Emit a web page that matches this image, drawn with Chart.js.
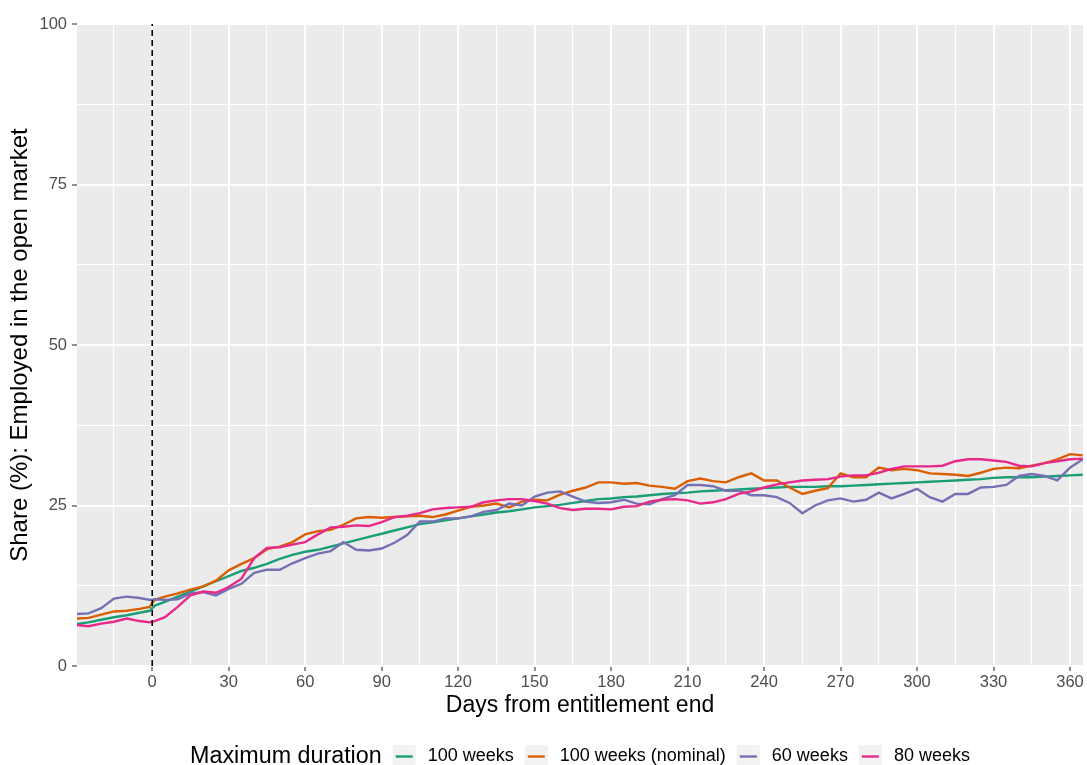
<!DOCTYPE html>
<html><head><meta charset="utf-8">
<script src="https://cdn.jsdelivr.net/npm/chart.js@4.4.1/dist/chart.umd.min.js"></script>
<style>html,body{margin:0;padding:0;background:#fff;}</style>
</head><body>
<canvas id="c" width="1087" height="765"></canvas>
<script>
const days = [-30,-25,-20,-15,-10,-5,-1,1,5,10,15,20,25,30,35,40,45,50,55,60,65,70,75,80,85,90,95,100,105,110,115,120,125,130,135,140,145,150,155,160,165,170,175,180,185,190,195,200,205,210,215,220,225,230,235,240,245,250,255,260,265,270,275,280,285,290,295,300,305,310,315,320,325,330,335,340,345,350,355,360,365];

const wk100 = [6.5,6.8,7.2,7.6,7.9,8.3,8.6,9.4,10.0,10.8,11.6,12.4,13.2,14.0,14.8,15.3,15.9,16.7,17.3,17.8,18.1,18.6,19.1,19.6,20.1,20.6,21.1,21.6,22.1,22.4,22.7,23.0,23.3,23.6,23.9,24.1,24.4,24.7,24.9,25.1,25.4,25.7,26.0,26.1,26.3,26.4,26.6,26.8,26.9,27.0,27.2,27.3,27.4,27.5,27.6,27.7,27.8,27.9,27.9,27.9,28.0,28.0,28.1,28.2,28.3,28.4,28.5,28.6,28.7,28.8,28.9,29.0,29.1,29.3,29.4,29.4,29.4,29.5,29.6,29.7,29.8];

const wk100nom = [7.4,7.5,8.0,8.5,8.6,8.9,9.2,10.3,10.8,11.3,11.9,12.4,13.3,14.9,15.9,16.8,18.2,18.6,19.3,20.5,21.0,21.2,22.0,23.0,23.2,23.1,23.2,23.3,23.4,23.2,23.6,24.2,24.8,25.0,25.3,24.7,25.6,25.9,25.8,26.7,27.3,27.8,28.6,28.6,28.4,28.5,28.1,27.9,27.6,28.8,29.2,28.8,28.6,29.4,30.0,28.9,28.9,27.8,26.8,27.3,27.7,30.0,29.4,29.4,30.9,30.5,30.7,30.5,30.0,29.9,29.8,29.6,30.1,30.7,30.9,30.8,31.2,31.6,32.2,33.0,32.8];

const wk60 = [8.1,8.2,9.0,10.5,10.8,10.6,10.3,10.4,10.3,10.4,11.3,11.5,11.0,12.0,12.8,14.5,15.0,15.0,16.0,16.8,17.5,17.9,19.3,18.1,18.0,18.3,19.2,20.4,22.5,22.5,23.0,23.0,23.3,24.0,24.3,25.3,25.0,26.4,27.0,27.2,26.4,25.6,25.4,25.5,25.9,25.3,25.2,26.0,26.6,28.2,28.2,28.0,27.3,27.3,26.6,26.6,26.3,25.4,23.8,25.0,25.8,26.1,25.6,25.9,27.0,26.1,26.8,27.6,26.3,25.6,26.8,26.8,27.8,27.9,28.2,29.6,29.9,29.6,28.9,30.9,32.2];

const wk80 = [6.4,6.2,6.6,6.9,7.4,7.0,6.8,7.0,7.6,9.2,11.0,11.6,11.4,12.3,13.6,16.8,18.4,18.5,18.9,19.3,20.5,21.6,21.7,21.9,21.8,22.4,23.2,23.4,23.8,24.4,24.6,24.7,24.8,25.5,25.8,26.0,26.0,25.7,25.3,24.6,24.3,24.5,24.5,24.4,24.8,24.9,25.6,25.9,26.0,25.8,25.3,25.5,26.0,26.8,27.2,27.8,28.3,28.6,28.9,29.0,29.1,29.5,29.7,29.7,30.1,30.7,31.1,31.1,31.1,31.2,31.9,32.2,32.2,32.0,31.8,31.2,31.1,31.6,31.9,32.2,32.3];

const seriesNames = ['100 weeks', '100 weeks (nominal)', '60 weeks', '80 weeks'];
const seriesValues = [wk100, wk100nom, wk60, wk80];
const seriesColors = ['#1B9E77', '#D95F02', '#7570B3', '#E7298A'];
const xTicks = [-15,0,15,30,45,60,75,90,105,120,135,150,165,180,195,210,225,240,255,270,285,300,315,330,345,360];
const yTicks = [0,12.5,25,37.5,50,62.5,75,87.5,100];
const cutoffLine = [{x:0,y:0},{x:0,y:100}];
const legendTitle = 'Maximum duration';
const xTitle = 'Days from entitlement end';
const yTitle = 'Share (%): Employed in the open market';

const FONT = '"Liberation Sans", Arial, Helvetica, sans-serif';

const panelBg = {
  id: 'panelBg',
  beforeDraw(chart) {
    const {ctx, chartArea: a} = chart;
    ctx.save();
    ctx.fillStyle = '#FFFFFF';
    ctx.fillRect(0, 0, chart.width, chart.height);
    ctx.fillStyle = '#EBEBEB';
    ctx.fillRect(a.left, a.top, a.right - a.left, a.bottom - a.top);
    ctx.restore();
  }
};

const ggLegend = {
  id: 'ggLegend',
  afterDraw(chart) {
    const {ctx, chartArea: a} = chart;
    ctx.save();
    const titleFont = '23.3px ' + FONT;
    const itemFont = '18px ' + FONT;
    ctx.font = titleFont;
    const tw = ctx.measureText(legendTitle).width;
    ctx.font = itemFont;
    const iw = seriesNames.map(n => ctx.measureText(n).width);
    const box = 23, gapTitle = 11, gapLabel = 12, gapItem = 11;
    let total = tw + gapTitle;
    iw.forEach((w, i) => { total += box + gapLabel + w + (i < iw.length - 1 ? gapItem : 0); });
    let x = (a.left + a.right) / 2 - total / 2;
    const cy = 756.5;
    ctx.textBaseline = 'middle';
    ctx.textAlign = 'left';
    ctx.fillStyle = '#000000';
    ctx.font = titleFont;
    ctx.fillText(legendTitle, x, cy + 0.5);
    x += tw + gapTitle;
    ctx.font = itemFont;
    seriesNames.forEach((n, i) => {
      ctx.fillStyle = '#F2F2F2';
      ctx.fillRect(x, cy - 11.5, box, box);
      ctx.strokeStyle = seriesColors[i];
      ctx.lineWidth = 2.4;
      ctx.beginPath();
      ctx.moveTo(x + 3, cy);
      ctx.lineTo(x + box - 3, cy);
      ctx.stroke();
      x += box + gapLabel;
      ctx.fillStyle = '#000000';
      ctx.fillText(n, x, cy);
      x += iw[i] + gapItem;
    });
    ctx.restore();
  }
};

const datasets = seriesNames.map((name, i) => ({
  label: name,
  data: days.map((d, j) => ({x: d, y: seriesValues[i][j]})),
  borderColor: seriesColors[i],
  backgroundColor: seriesColors[i],
  borderWidth: 2.4,
  pointRadius: 0,
  tension: 0,
  fill: false,
  order: 4 - i
}));
datasets.push({
  label: 'cutoff',
  data: cutoffLine,
  borderColor: '#000000',
  borderWidth: 1.6,
  borderDash: [6, 4],
  pointRadius: 0,
  fill: false,
  order: 0
});

const isMajorX = v => v % 30 === 0;
const isMajorY = v => v % 25 === 0;

new Chart(document.getElementById('c'), {
  type: 'line',
  data: { datasets },
  plugins: [panelBg, ggLegend],
  options: {
    responsive: false,
    animation: false,
    layout: { padding: { top: 24, right: 4, bottom: 44, left: 0 } },
    plugins: { legend: { display: false }, tooltip: { enabled: false } },
    scales: {
      x: {
        type: 'linear',
        min: -29.5,
        max: 365.1,
        afterBuildTicks: s => { s.ticks = xTicks.map(v => ({value: v})); },
        afterFit: s => { s.height = 55; },
        border: { display: false },
        grid: {
          color: '#FFFFFF',
          lineWidth: c => (c.tick && isMajorX(c.tick.value)) ? 2 : 1,
          drawTicks: true,
          tickLength: 5,
          tickWidth: 1.1,
          tickColor: c => (c.tick && isMajorX(c.tick.value)) ? '#333333' : 'rgba(0,0,0,0)'
        },
        ticks: {
          autoSkip: false,
          maxRotation: 0,
          padding: 2,
          color: '#4D4D4D',
          font: { family: FONT, size: 16.5 },
          callback: v => isMajorX(v) ? String(v) : ''
        },
        title: {
          display: true,
          text: xTitle,
          color: '#000000',
          font: { family: FONT, size: 23 },
          padding: { top: 0, bottom: 2 }
        }
      },
      y: {
        type: 'linear',
        min: 0,
        max: 100,
        afterBuildTicks: s => { s.ticks = yTicks.map(v => ({value: v})); },
        afterFit: s => { s.width = 77; },
        border: { display: false },
        grid: {
          color: '#FFFFFF',
          lineWidth: c => (c.tick && isMajorY(c.tick.value)) ? 2 : 1,
          drawTicks: true,
          tickLength: 5,
          tickWidth: 1.1,
          tickColor: c => (c.tick && isMajorY(c.tick.value)) ? '#333333' : 'rgba(0,0,0,0)'
        },
        ticks: {
          autoSkip: false,
          padding: 5,
          color: '#4D4D4D',
          font: { family: FONT, size: 16.5 },
          callback: v => isMajorY(v) ? String(v) : ''
        },
        title: {
          display: true,
          text: yTitle,
          color: '#000000',
          font: { family: FONT, size: 24 },
          padding: { top: 6, bottom: 0 }
        }
      }
    }
  }
});
</script>
</body></html>
